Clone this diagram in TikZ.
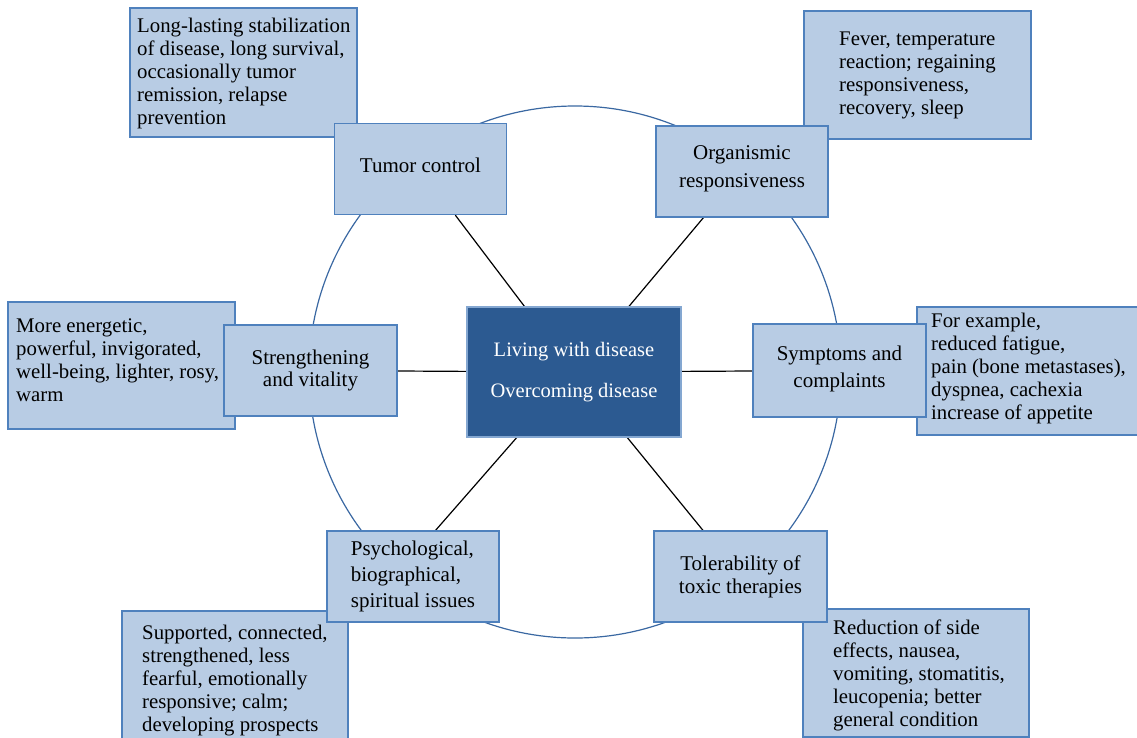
\documentclass[tikz,border=0pt]{standalone}
\usepackage{fontspec}
\setmainfont{Liberation Serif}
\usetikzlibrary{backgrounds}
\definecolor{boxfill}{HTML}{B8CCE4}
\definecolor{boxline}{HTML}{4F81BD}
\definecolor{corefill}{HTML}{2C5A91}
\definecolor{ringline}{HTML}{3A68A2}
\tikzset{
  sat/.style={draw=boxline, fill=boxfill, line width=1.3pt, inner sep=0pt,
    minimum width=172pt, minimum height=91pt, align=center,
    font=\fontsize{21}{26}\selectfont},
  detail/.style={draw=boxline, fill=boxfill, line width=1.3pt, inner sep=0pt},
  dtext/.style={inner sep=0pt, anchor=base west},
  core/.style={draw=boxline!70, fill=corefill, line width=1.3pt, inner sep=0pt,
    minimum width=214pt, minimum height=130pt, align=center, text=white,
    font=\fontsize{20.5}{27}\selectfont},
  link/.style={draw=black, line width=1.2pt},
  ring/.style={draw=ringline, line width=1.2pt}
}
\newcommand{\dpar}[1]{\parbox[t]{260pt}{\fontsize{20.8}{23}\selectfont\raggedright #1}}
\begin{document}
\begin{tikzpicture}[x=1pt,y=-1pt]
\useasboundingbox (0,0) rectangle (1137,737);
\clip (0,0) rectangle (1137,737);
% ring
\draw[ring] (575,372) circle[radius=266];
% detail boxes
\node[detail, minimum width=227pt, minimum height=129pt] (dtl) at (243.5,72.5) {};
\node[detail, minimum width=227pt, minimum height=128pt] (dtr) at (917.5,75) {};
\node[detail, minimum width=227pt, minimum height=127pt] (dl) at (121.5,365.5) {};
\node[detail, minimum width=227pt, minimum height=128pt] (dr) at (1030.5,371) {};
\node[detail, minimum width=226pt, minimum height=128pt] (dbl) at (235,675) {};
\node[detail, minimum width=226pt, minimum height=128pt] (dbr) at (916,673) {};
\node[dtext] (ttl) at (137,32) {\dpar{Long-lasting stabilization\\of disease, long survival,\\occasionally tumor\\remission, relapse\\prevention}};
\node[dtext] (ttr) at (839,45) {\dpar{Fever, temperature\\reaction; regaining\\responsiveness,\\recovery, sleep}};
\node[dtext] (tl) at (16,332) {\dpar{More energetic,\\powerful, invigorated,\\well-being, lighter, rosy,\\warm}};
\node[dtext] (tr) at (931,327) {\dpar{For example,\\reduced fatigue,\\pain (bone metastases),\\dyspnea, cachexia\\increase of appetite}};
\node[dtext] (tbl) at (142,639) {\dpar{Supported, connected,\\strengthened, less\\fearful, emotionally\\responsive; calm;\\developing prospects}};
\node[dtext] (tbr) at (833,634) {\dpar{Reduction of side\\effects, nausea,\\vomiting, stomatitis,\\leucopenia; better\\general condition}};
% center
\node[core] (c) at (574,372) {Living with disease\\[14pt]Overcoming disease};
% attachment point
\coordinate (pt) at (435,531);
% satellites
\node[sat] (t) at (420.5,169) {Tumor control\\[-18pt]\mbox{}};
\node[sat] (o) at (742,171.5) {Organismic\\[2pt]responsiveness\\[-16pt]\mbox{}};
\node[sat, minimum width=173pt] (s) at (310.5,370.5) {Strengthening\\[-4pt]and vitality};
\node[sat, minimum width=173pt, minimum height=93pt] (sy) at (839.5,370.5) {Symptoms and\\[1pt]complaints\\[-19pt]\mbox{}};
\node[sat] (p) at (413,576.5) {\begin{tabular}{@{}l@{}}Psychological,\\biographical,\\spiritual issues\end{tabular}};
\node[sat, minimum width=173pt] (to) at (740.5,576.5) {Tolerability of\\[-3pt]toxic therapies};
% links (behind boxes)
\begin{scope}[on background layer]
\draw[link] (c) -- (t);
\draw[link] (c) -- (o);
\draw[link] (c) -- (s);
\draw[link] (c) -- (sy);
\draw[link] (c) -- (pt);
\draw[link] (c) -- (to);
\end{scope}
\end{tikzpicture}
\end{document}
